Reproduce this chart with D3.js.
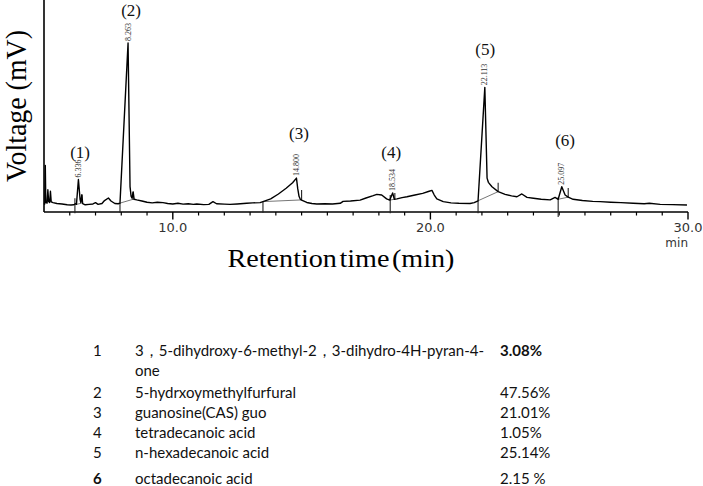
<!DOCTYPE html>
<html><head><meta charset="utf-8">
<script src="https://cdn.jsdelivr.net/npm/d3@7"></script>
<style>body{margin:0;background:#fff}svg{display:block}</style>
</head><body>
<svg id="c" width="703" height="486"></svg>
<script>
// ---- data ----
const trace = [
[5.00,3.6],[5.03,3.8],[5.05,22.0],[5.07,4.5],[5.12,4.2],[5.15,10.5],[5.18,5.0],[5.22,4.5],[5.25,9.8],[5.28,4.8],[5.35,4.4],[5.5,4.0],[5.7,3.8],[5.9,3.4],[6.05,3.3],[6.15,3.4],[6.22,3.9],[6.26,3.6],[6.336,15.3],[6.40,6.0],[6.43,4.5],[6.47,8.2],[6.50,4.0],[6.6,3.4],[6.75,3.6],[6.9,3.8],[7.0,4.4],[7.1,3.6],[7.25,4.0],[7.35,5.4],[7.5,6.6],[7.6,5.2],[7.75,4.0],[7.88,3.9],[7.95,4.2],[8.263,79.7],[8.34,12],[8.38,7.5],[8.42,6.5],[8.46,9.5],[8.5,6.0],[8.6,5.7],[8.8,5.2],[9.0,4.6],[9.2,4.3],[9.4,4.6],[9.62,4.4],[9.8,4.0],[10.0,3.8],[10.2,4.1],[10.4,3.7],[10.6,3.9],[10.8,3.6],[10.93,3.8],[11.2,3.5],[11.4,3.6],[11.56,4.9],[11.7,3.9],[12.0,3.7],[12.22,3.6],[12.5,3.8],[12.87,4.1],[13.1,4.3],[13.39,4.4],[13.5,4.9],
[13.8,6.2],[14.1,8.5],[14.4,11.2],[14.65,13.8],[14.80,16.0],[14.85,11],[14.9,7.4],[14.95,6.0],[15.0,5.6],[15.2,4.5],[15.4,4.0],[15.59,3.8],[15.9,3.9],[16.2,3.8],[16.5,4.1],[16.61,5.0],[16.9,5.2],[17.27,5.6],[17.5,6.6],[17.78,7.7],[17.92,8.3],[18.11,8.0],[18.3,6.2],[18.42,5.6],[18.534,9.0],[18.6,6.0],[18.70,6.2],[18.9,6.8],[19.09,7.2],[19.4,8.0],[19.7,8.8],[19.95,9.8],[20.06,10.2],[20.15,8.0],[20.25,6.2],[20.5,4.9],[20.8,4.3],[21.1,4.1],[21.54,4.0],[21.7,4.4],[21.85,5.3],[22.113,58.8],[22.2,16],[22.25,14.0],[22.39,11.9],[22.63,9.6],[22.9,8.3],[23.15,7.6],[23.36,7.2],[23.55,8.5],[23.75,6.9],[24.0,6.5],[24.3,6.0],[24.65,5.7],[24.84,6.9],[24.96,6.0],[25.10,11.9],[25.23,8.0],[25.35,7.0],[25.54,6.0],[25.9,5.4],[26.3,5.0],[26.59,4.9],[27.0,4.6],[27.4,4.4],[27.87,4.1],[28.3,3.9],[28.5,4.1],[28.92,3.6],[29.4,3.5],[29.96,3.3]
];
const peakIds = ["(1)","(2)","(3)","(4)","(5)","(6)"];
const peakTimes = [6.336, 8.263, 14.800, 18.534, 22.113, 25.097];
const peakHeights = [15.3, 79.7, 16.0, 9.0, 58.8, 11.9];
const rtLabels = ["6.336","8.263","14.800","18.534","22.113","25.097"];
const idLabelT = [6.40, 8.38, 14.90, 18.48, 22.13, 25.23];
const idLabelV = [28.3, 95.3, 37.3, 28.3, 76.9, 34.0];
const integBaselines = [
  [[6.26,3.6],[6.47,4.2]],[[7.95,4.2],[8.46,6.0]],[[13.5,4.9],[15.0,5.7]],
  [[18.42,5.6],[18.6,6.0]],[[21.85,5.3],[22.63,9.6]],[[24.96,6.0],[25.35,7.0]]
];
const startMarkers = [[6.20,6.5,-0.6],[7.95,4.2,-0.3],[13.5,5.0,-0.3],[18.44,8.0,-0.6],[21.85,5.3,-0.6],[24.96,7.0,-2.3]];
const endMarkers = [[6.47,8.0,5.0],[8.46,9.5,5.7],[15.0,10.4,5.7],[18.62,9.0,6.0],[22.63,13.8,9.6],[25.35,11.3,7.0]];
const xMajorTicks = [10, 20, 30];
const xMinorTicks = d3.range(6, 30, 1);
const tableNums = ["1","2","3","4","5","6"];
const tableNames = [["3，5-dihydroxy-6-methyl-2，3-dihydro-4H-pyran-4-","one"],["5-hydrxoymethylfurfural"],["guanosine(CAS) guo"],["tetradecanoic acid"],["n-hexadecanoic acid"],["octadecanoic acid"]];
const tablePct = ["3.08%","47.56%","21.01%","1.05%","25.14%","2.15 %"];

// ---- drawing ----
const svg = d3.select("#c");
const x = d3.scaleLinear().domain([5, 30]).range([44, 688]);
const y = d3.scaleLinear().domain([0, 100]).range([212, 0]);

// axes
svg.append("line").attr("x1",x(5)).attr("x2",x(5)).attr("y1",0).attr("y2",y(0)).attr("stroke","#000").attr("stroke-width",1.6);
svg.append("line").attr("x1",x(5)).attr("x2",x(30)).attr("y1",y(0)).attr("y2",y(0)).attr("stroke","#000").attr("stroke-width",1.6);
svg.selectAll(".mn").data(xMinorTicks.filter(d=>!xMajorTicks.includes(d))).join("line")
  .attr("x1",d=>x(d)).attr("x2",d=>x(d)).attr("y1",y(0)).attr("y2",y(0)+3.5).attr("stroke","#000").attr("stroke-width",1.2);
svg.selectAll(".mj").data(xMajorTicks).join("line")
  .attr("x1",d=>x(d)).attr("x2",d=>x(d)).attr("y1",y(0)).attr("y2",y(0)+7.5).attr("stroke","#000").attr("stroke-width",1.4);
svg.selectAll(".tl").data(xMajorTicks).join("text")
  .attr("x",d=>x(d)).attr("y",232).attr("text-anchor","middle")
  .attr("font-family","DejaVu Sans").attr("font-size",13).attr("fill","#333").text(d=>d.toFixed(1));
svg.append("text").attr("x",x(30)).attr("y",247).attr("text-anchor","end")
  .attr("font-family","DejaVu Sans").attr("font-size",12).attr("fill","#333").text("min");

// integration baselines
const line = d3.line().x(d=>x(d[0])).y(d=>y(d[1]));
svg.selectAll(".ib").data(integBaselines).join("path").attr("d",line)
  .attr("fill","none").attr("stroke","#666").attr("stroke-width",0.9);
svg.selectAll(".sm").data(startMarkers.concat(endMarkers)).join("line")
  .attr("x1",d=>x(d[0])).attr("x2",d=>x(d[0])).attr("y1",d=>y(d[1])).attr("y2",d=>y(d[2]))
  .attr("stroke","#222").attr("stroke-width",1.1);

// trace
svg.append("path").datum(trace).attr("d",line).attr("fill","none").attr("stroke","#000")
  .attr("stroke-width",1.4).attr("stroke-linejoin","round");

// retention time labels
svg.selectAll(".rt").data(rtLabels).join("text")
  .attr("transform",(d,i)=>`translate(${x(peakTimes[i])+2.5},${y(peakHeights[i])-2}) rotate(-90)`)
  .attr("font-family","Liberation Serif").attr("font-size",8).attr("fill","#333").text(d=>d);
// peak ids
svg.selectAll(".pid").data(peakIds).join("text")
  .attr("x",(d,i)=>x(idLabelT[i])).attr("y",(d,i)=>y(idLabelV[i])).attr("dy","0.35em").attr("text-anchor","middle")
  .attr("font-family","Liberation Serif").attr("font-size",17).attr("fill","#111").text(d=>d);

// axis titles
svg.append("text").attr("transform","translate(26,106) rotate(-90)").attr("text-anchor","middle")
  .attr("font-family","Liberation Serif").attr("font-size",29).attr("textLength",152).attr("lengthAdjust","spacingAndGlyphs").text("Voltage (mV)");
svg.append("text").attr("x",341).attr("y",267).attr("text-anchor","middle")
  .attr("font-family","Liberation Serif").attr("font-size",25).attr("textLength",227).attr("lengthAdjust","spacingAndGlyphs").attr("word-spacing",-4).text("Retention time (min)");

// table
const rowY = [351, 393, 413, 433, 453, 479];
const g = svg.append("g").attr("font-family","Lato").attr("font-size",15).attr("fill","#111");
g.selectAll(".tn").data(tableNums).join("text").attr("x",93).attr("y",(d,i)=>rowY[i]).attr("dy","0.35em")
  .attr("font-weight",(d,i)=>i===5?"bold":"normal").text(d=>d);
g.selectAll(".tnm").data(tableNames).join("text").attr("x",135).attr("y",(d,i)=>rowY[i]).attr("dy","0.35em")
  .each(function(d){ d3.select(this).selectAll("tspan").data(d).join("tspan").attr("x",135).attr("dy",(t,j)=>j?"1.3em":null).text(t=>t); });
g.selectAll(".tp").data(tablePct).join("text").attr("x",500).attr("y",(d,i)=>rowY[i]).attr("dy","0.35em")
  .attr("font-weight",(d,i)=>i===0?"bold":"normal").text(d=>d);
</script>
</body></html>
